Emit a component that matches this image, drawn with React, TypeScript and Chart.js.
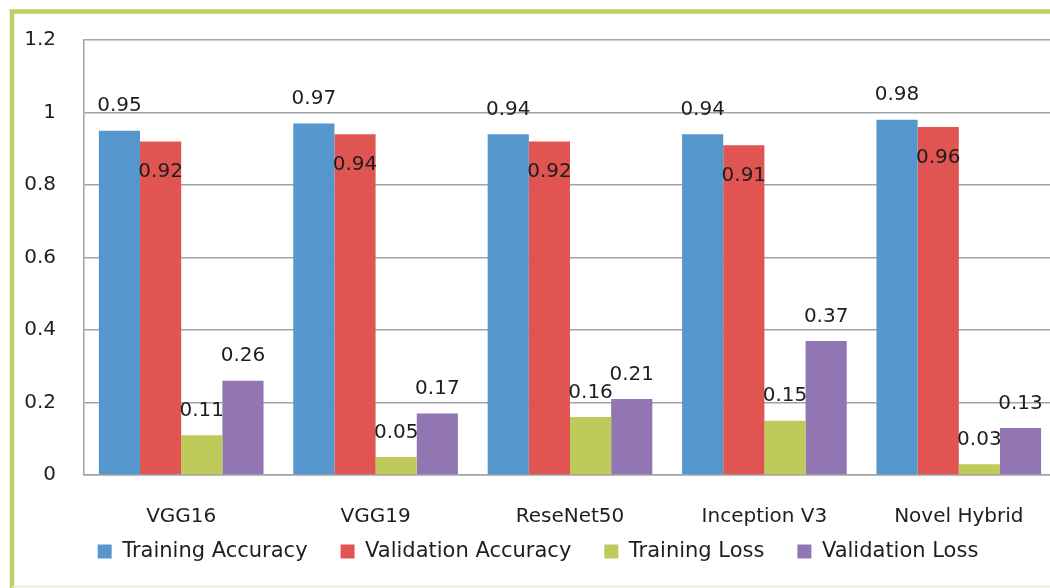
import React, { useEffect, useRef } from "react";
import { Chart, registerables } from "chart.js";

Chart.register(...registerables);

const categories = ["VGG16", "VGG19", "ReseNet50", "Inception V3", "Novel Hybrid"];
const seriesNames = ["Training Accuracy", "Validation Accuracy", "Training Loss", "Validation Loss"];
const trainingAccuracy = [0.95, 0.97, 0.94, 0.94, 0.98];
const validationAccuracy = [0.92, 0.94, 0.92, 0.91, 0.96];
const trainingLoss = [0.11, 0.05, 0.16, 0.15, 0.03];
const validationLoss = [0.26, 0.17, 0.21, 0.37, 0.13];
const yMin = 0;
const yMax = 1.2;
const yStep = 0.2;

const seriesColors = ["#5596cd", "#e05552", "#becb5a", "#9276b4"];
const FONT = "'DejaVu Sans', Verdana, sans-serif";
const CANVAS_W = 1062;
const CANVAS_H = 588;

const framePlugin = {
  id: "frame",
  beforeDraw(chart: any) {
    const ctx = chart.ctx;
    ctx.save();
    ctx.fillStyle = "#ffffff";
    ctx.fillRect(0, 0, chart.width, chart.height);
    ctx.strokeStyle = "#c2cf66";
    ctx.lineWidth = 4.5;
    ctx.beginPath();
    ctx.moveTo(12, CANVAS_H);
    ctx.lineTo(12, 11.5);
    ctx.lineTo(chart.width + 5, 11.5);
    ctx.stroke();
    ctx.strokeStyle = "#e8edcf";
    ctx.lineWidth = 1.5;
    ctx.beginPath();
    ctx.moveTo(12, 586.5);
    ctx.lineTo(chart.width + 5, 586.5);
    ctx.stroke();
    ctx.restore();
  },
};

const layoutTweakPlugin = {
  id: "layoutTweak",
  afterLayout(chart: any) {
    const lg = chart.legend;
    if (lg) {
      lg.left += 10;
      lg.right += 10;
      if (typeof lg.adjustHitBoxes === "function") lg.adjustHitBoxes();
    }
    const xs = chart.scales.x;
    if (xs) xs.bottom = chart.height;
  },
};

const valueLabelPlugin = {
  id: "valueLabels",
  afterDatasetsDraw(chart: any) {
    const ctx = chart.ctx;
    ctx.save();
    ctx.font = `20px ${FONT}`;
    ctx.fillStyle = "#1e1e1e";
    ctx.textAlign = "center";
    ctx.textBaseline = "middle";
    chart.data.datasets.forEach((ds: any, di: number) => {
      const meta = chart.getDatasetMeta(di);
      meta.data.forEach((el: any, i: number) => {
        const v = ds.data[i];
        const off = di === 1 ? 30.5 : -24.5;
        ctx.fillText(Number(v).toFixed(2), el.x, el.y + off);
      });
    });
    ctx.restore();
  },
};

export default function App() {
  const ref = useRef<HTMLCanvasElement | null>(null);

  useEffect(() => {
    if (!ref.current) return;
    const seriesValues = [trainingAccuracy, validationAccuracy, trainingLoss, validationLoss];
    const chart = new Chart(ref.current, {
      type: "bar",
      data: {
        labels: categories,
        datasets: seriesNames.map((name, i) => ({
          label: name,
          data: seriesValues[i],
          backgroundColor: seriesColors[i],
          borderWidth: 0,
          categoryPercentage: 0.847,
          barPercentage: 1,
        })),
      },
      options: {
        responsive: false,
        animation: false,
        devicePixelRatio: 1,
        layout: { padding: { top: 37, bottom: 16, left: 0, right: CANVAS_W - 1056 } },
        plugins: {
          tooltip: { enabled: false },
          title: { display: false },
          legend: {
            position: "bottom",
            labels: {
              boxWidth: 14,
              boxHeight: 14,
              padding: 33,
              color: "#1e1e1e",
              font: { family: FONT, size: 21 },
            },
          },
        },
        scales: {
          x: {
            grid: { display: false, drawTicks: false },
            border: { display: true, color: "#a3a3a3", width: 1.5 },
            ticks: { color: "#1e1e1e", font: { family: FONT, size: 20 }, padding: 30 },
            afterFit: (s: any) => {
              s.height = 33;
            },
          },
          y: {
            min: yMin,
            max: yMax,
            grid: { color: "#a3a3a3", lineWidth: 1.5, drawTicks: false },
            border: { display: true, color: "#a3a3a3", width: 1.5 },
            ticks: {
              stepSize: yStep,
              padding: 28,
              color: "#1e1e1e",
              font: { family: FONT, size: 20 },
              callback: (v: any) => String(Math.round(Number(v) * 10) / 10),
            },
            afterFit: (s: any) => {
              s.width = 84;
            },
          },
        },
      },
      plugins: [framePlugin, layoutTweakPlugin, valueLabelPlugin],
    });
    return () => chart.destroy();
  }, []);

  return (
    <div
      style={{
        position: "fixed",
        left: 0,
        top: 0,
        width: 1050,
        height: 588,
        overflow: "hidden",
        background: "#fff",
      }}
    >
      <canvas ref={ref} width={CANVAS_W} height={CANVAS_H} style={{ display: "block" }} />
    </div>
  );
}
